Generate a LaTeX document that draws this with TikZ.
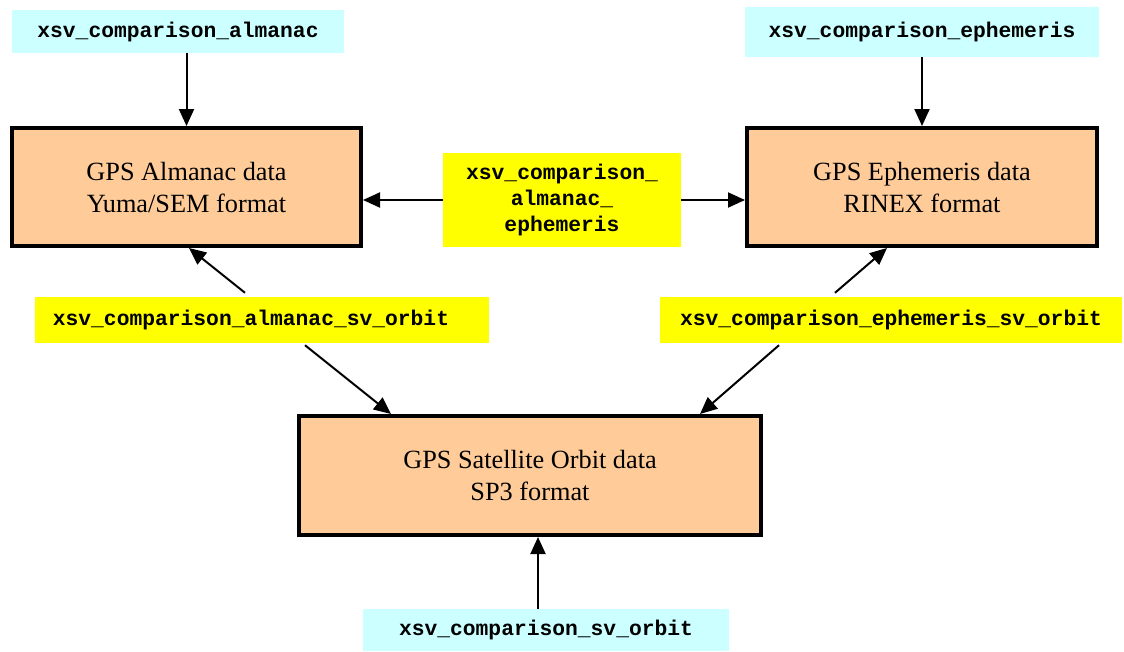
\documentclass[tikz,border=0pt]{standalone}
\usepackage{fontspec}
\setmainfont{Liberation Serif}
\newfontfamily\codefont{Liberation Mono}
\usetikzlibrary{arrows.meta}
\definecolor{cmdcyan}{HTML}{CCFFFF}
\definecolor{dataorange}{HTML}{FFCC99}
\definecolor{cmdyellow}{HTML}{FFFF00}
\begin{document}
\begin{tikzpicture}[x=1pt,y=-1pt,
  databox/.style={draw=black, line width=4pt, fill=dataorange, inner sep=0pt,
    align=center, font=\fontsize{26.3}{32}\selectfont},
  cmdbox/.style={fill=cmdcyan, inner sep=0pt,
    font=\fontsize{21.3}{23}\selectfont\codefont\bfseries},
  cmpbox/.style={fill=cmdyellow, inner sep=0pt, align=center,
    font=\fontsize{21.3}{26}\selectfont\codefont\bfseries},
  arr/.style={line width=2pt, -{Triangle[length=17pt,width=15pt]}}]
\useasboundingbox (0,0) rectangle (1124,651);

% data sets
\node[databox, minimum width=349pt, minimum height=118pt] (alm) at (186.5,187)
  {GPS Almanac data\\Yuma/SEM format};
\node[databox, minimum width=350pt, minimum height=118pt] (eph) at (922,187)
  {GPS Ephemeris data\\RINEX format};
\node[databox, minimum width=462pt, minimum height=119pt] (orb) at (530,475.5)
  {GPS Satellite Orbit data\\SP3 format};

% single-source programs
\node[cmdbox, minimum width=332pt, minimum height=43pt] (calm) at (178,31.5)
  {xsv\_comparison\_almanac};
\node[cmdbox, minimum width=354pt, minimum height=50pt] (ceph) at (922,32)
  {xsv\_comparison\_ephemeris};
\node[cmdbox, minimum width=366pt, minimum height=42pt] (corb) at (546,630)
  {xsv\_comparison\_sv\_orbit};

% cross-comparison programs
\node[cmpbox, minimum width=238pt, minimum height=94pt] (cae) at (562,200)
  {xsv\_comparison\_\\almanac\_\\ephemeris};
\node[cmpbox, minimum width=454pt, minimum height=46pt] (cao) at (262,320)
  {xsv\_comparison\_almanac\_sv\_orbit\hspace*{22pt}};
\node[cmpbox, minimum width=462pt, minimum height=46pt] (ceo) at (891,320)
  {xsv\_comparison\_ephemeris\_sv\_orbit};

% connectors
\draw[arr] (alm.north |- calm.south) -- (alm.north);
\draw[arr] (eph.north |- ceph.south) -- (eph.north);
\draw[arr] ([xshift=-8pt]corb.north) -- ([xshift=-8pt]corb.north |- orb.south);

\draw[arr] (cae.west) -- (cae.west -| alm.east);
\draw[arr] (cae.east) -- (cae.east -| eph.west);

\draw[arr] ([xshift=-17pt,yshift=4pt]cao.north) -- ([xshift=2.5pt]alm.south);
\draw[arr] ([xshift=43pt,yshift=-2pt]cao.south) -- ([xshift=-139pt]orb.north);
\draw[arr] ([xshift=-56pt,yshift=4pt]ceo.north) -- ([xshift=-35pt]eph.south);
\draw[arr] ([xshift=-112pt,yshift=-2pt]ceo.south) -- ([xshift=170pt]orb.north);
\end{tikzpicture}
\end{document}
